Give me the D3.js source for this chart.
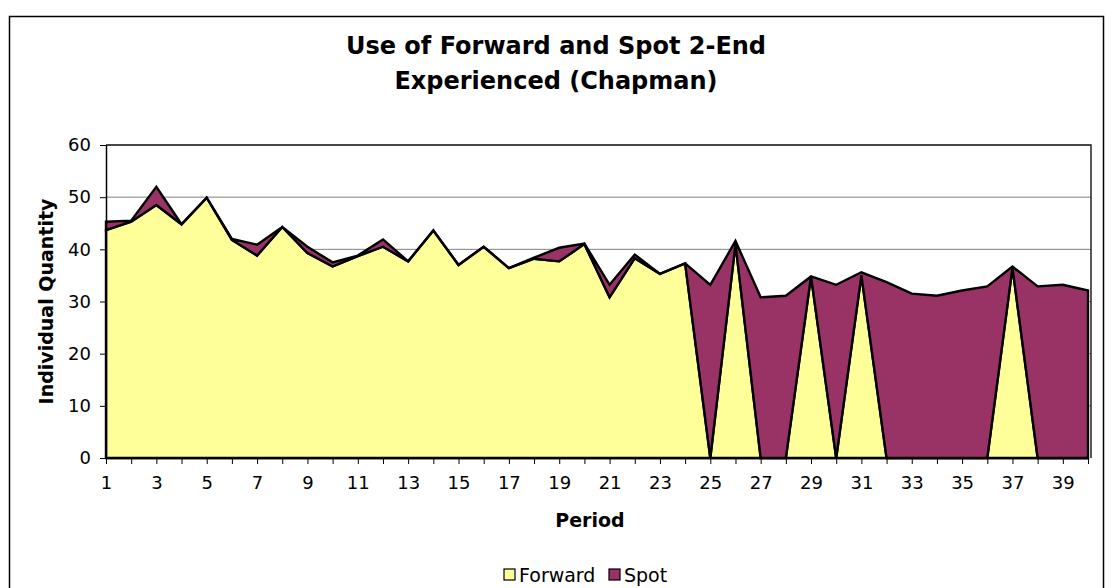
<!DOCTYPE html>
<html>
<head>
<meta charset="utf-8">
<script src="https://cdn.jsdelivr.net/npm/d3@7"></script>
<style>
  body { margin: 0; background: #fff; }
  svg { display: block; font-family: "DejaVu Sans", Verdana, sans-serif; }
</style>
</head>
<body>
<div id="chart"></div>
<script>
// periods 1..40
const periods = d3.range(1, 41);
const forward = [43.7, 45.3, 48.5, 44.8, 49.9, 41.8, 38.8, 44.3, 39.3, 36.7,
                 38.7, 40.5, 37.7, 43.6, 37.0, 40.5, 36.4, 38.2, 37.7, 41.0,
                 30.8, 38.3, 35.3, 37.3, 0, 41.0, 0, 0, 34.8, 0,
                 35.0, 0, 0, 0, 0, 0, 36.5, 0, 0, 0];
const spot = [1.6, 0.2, 3.5, 0, 0, 0.2, 2.1, 0, 1.2, 0.8,
              0.1, 1.4, 0, 0, 0, 0, 0, 0.2, 2.6, 0.1,
              2.4, 0.7, 0, 0, 33.2, 0.6, 30.8, 31.1, 0, 33.2,
              0.6, 33.7, 31.5, 31.1, 32.1, 32.9, 0.2, 32.9, 33.2, 32.1];
const yTicks = [0, 10, 20, 30, 40, 50, 60];
const seriesNames = ['Forward', 'Spot'];
const colors = ['#FFFF99', '#993366'];

const W = 1113, H = 588;
const margin = { top: 145, left: 106, right: 1088, bottom: 458 };
const font = '"DejaVu Sans", Verdana, sans-serif';

const svg = d3.select('#chart').append('svg')
    .attr('width', W).attr('height', H);

// outer chart border
svg.append('rect')
    .attr('x', 9.5).attr('y', 16.5)
    .attr('width', 1094).attr('height', 600)
    .attr('fill', 'none').attr('stroke', '#000').attr('stroke-width', 1.5);

const x = d3.scaleLinear().domain([1, 40]).range([margin.left, margin.right]);
const y = d3.scaleLinear().domain([0, 60]).range([margin.bottom, margin.top]);

// gridlines
svg.append('g').selectAll('line')
    .data(yTicks.filter(d => d > 0))
    .join('line')
    .attr('x1', margin.left).attr('x2', margin.right + 3)
    .attr('y1', d => y(d)).attr('y2', d => y(d))
    .attr('stroke', '#808080').attr('stroke-width', 1);

// stacked areas
const rows = periods.map((p, i) => ({ period: p, Forward: forward[i], Spot: spot[i] }));
const stack = d3.stack().keys(seriesNames)(rows);

const area = d3.area()
    .x(d => x(d.data.period))
    .y0(d => y(d[0]))
    .y1(d => y(d[1]));

svg.append('g').selectAll('path')
    .data(stack)
    .join('path')
    .attr('d', area)
    .attr('fill', (d, i) => colors[i])
    .attr('stroke', '#000')
    .attr('stroke-width', 2.4)
    .attr('stroke-linejoin', 'miter');

// plot frame top/right
svg.append('path')
    .attr('d', `M${margin.left},${y(60)}H${margin.right + 3}V${y(0)}`)
    .attr('fill', 'none').attr('stroke', '#222').attr('stroke-width', 1.5);

// y axis
const yAxis = svg.append('g')
    .attr('transform', `translate(${margin.left},0)`)
    .call(d3.axisLeft(y).tickValues(yTicks).tickSize(6).tickPadding(9).tickSizeOuter(0));
yAxis.select('.domain').attr('stroke', '#000').attr('stroke-width', 1.5);
yAxis.selectAll('.tick line').attr('stroke', '#000');
yAxis.selectAll('.tick text').attr('font-size', 18).attr('fill', '#000').attr('font-family', font);

// x axis
const xAxis = svg.append('g')
    .attr('transform', `translate(0,${margin.bottom})`)
    .call(d3.axisBottom(x).tickValues(periods).tickSize(6).tickPadding(12).tickSizeOuter(0)
        .tickFormat(d => d % 2 === 1 ? d : ''));
xAxis.select('.domain').attr('stroke', '#000').attr('stroke-width', 1.5);
xAxis.selectAll('.tick line').attr('stroke', '#000');
xAxis.selectAll('.tick text').attr('font-size', 18).attr('fill', '#000').attr('font-family', font);

// titles
const title = svg.append('text')
    .attr('text-anchor', 'middle')
    .attr('font-size', 24).attr('font-weight', 'bold');
title.append('tspan').attr('x', 556).attr('y', 54).text('Use of Forward and Spot 2-End');
title.append('tspan').attr('x', 556).attr('y', 89).text('Experienced (Chapman)');

svg.append('text')
    .attr('x', 590).attr('y', 527)
    .attr('text-anchor', 'middle')
    .attr('font-size', 19).attr('font-weight', 'bold')
    .text('Period');

svg.append('text')
    .attr('transform', `translate(53,${(margin.top + margin.bottom) / 2}) rotate(-90)`)
    .attr('text-anchor', 'middle')
    .attr('font-size', 19).attr('font-weight', 'bold')
    .text('Individual Quantity');

// legend
const legendPos = [504, 609];
const legend = svg.append('g');
seriesNames.forEach((name, i) => {
    const g = legend.append('g').attr('transform', `translate(${legendPos[i]},575)`);
    g.append('rect').attr('x', 0).attr('y', -6).attr('width', 11).attr('height', 11)
        .attr('fill', colors[i]).attr('stroke', '#000').attr('stroke-width', 1.2);
    g.append('text').attr('x', 15).attr('y', 7).attr('font-size', 19).text(name);
});
</script>
</body>
</html>
